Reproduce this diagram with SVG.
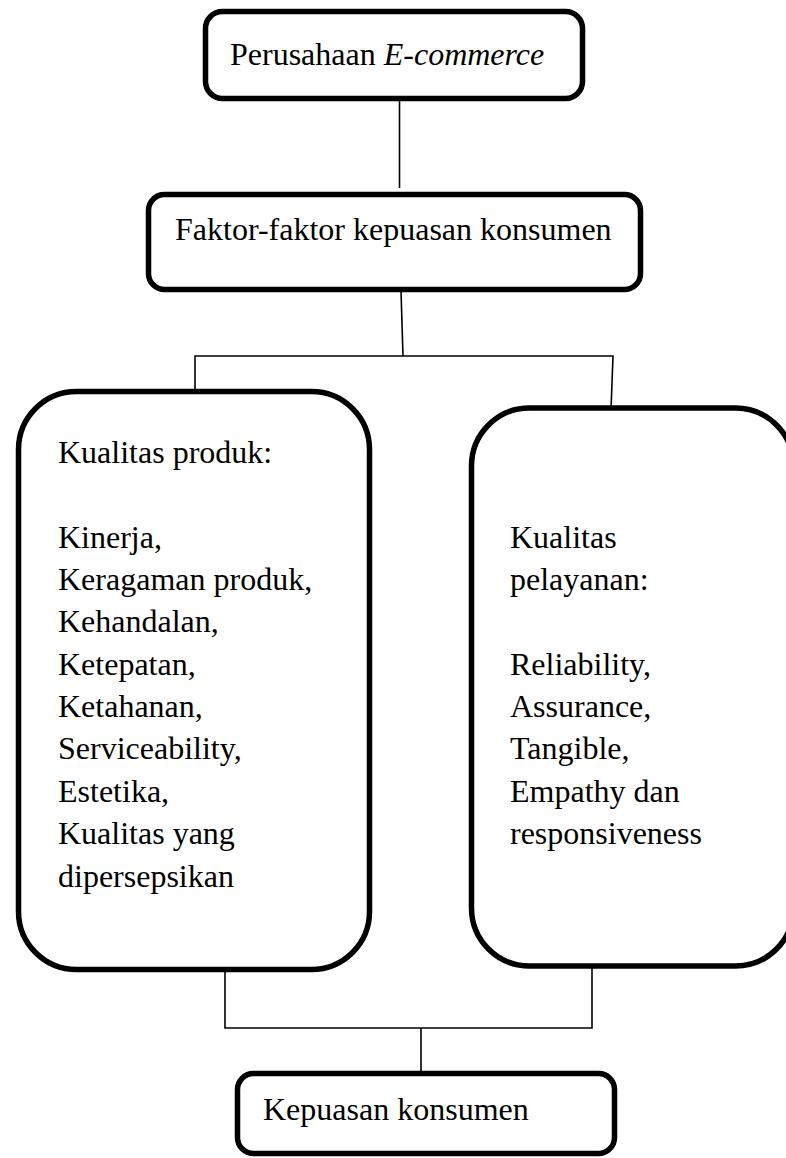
<svg xmlns="http://www.w3.org/2000/svg" width="786" height="1158" viewBox="0 0 786 1158">
  <style>
    .box { fill: #ffffff; stroke: #000000; stroke-width: 5.5; }
    .link { fill: none; stroke: #000000; stroke-width: 1.6; }
    text { font-family: "Liberation Serif", "Times New Roman", serif; font-size: 32px; fill: #000000; }
    .it { font-style: italic; }
  </style>
  <rect width="786" height="1158" fill="#ffffff"/>

  <!-- connectors -->
  <g id="connectors">
    <line class="link" x1="399.5" y1="100" x2="399.5" y2="188"/>
    <line class="link" x1="401" y1="291" x2="403" y2="356"/>
    <polyline class="link" points="195,390 195,356 613,356 611,410"/>
    <polyline class="link" points="225,972 225,1028 592,1028 592,967"/>
    <line class="link" x1="421" y1="1028" x2="421" y2="1072"/>
  </g>

  <g id="node-ecommerce">
    <rect class="box" x="205.5" y="11.5" width="377" height="87" rx="17"/>
    <text x="230" y="65">Perusahaan <tspan class="it">E-commerce</tspan></text>
  </g>

  <g id="node-faktor">
    <rect class="box" x="148.5" y="194.5" width="492" height="95" rx="16"/>
    <text x="175" y="240">Faktor-faktor kepuasan konsumen</text>
  </g>

  <g id="node-produk">
    <rect class="box" x="18.5" y="391.5" width="351" height="578" rx="58"/>
    <text x="58" y="463">Kualitas produk:</text>
    <text x="58" y="548">Kinerja,</text>
    <text x="58" y="590">Keragaman produk,</text>
    <text x="58" y="632">Kehandalan,</text>
    <text x="58" y="675">Ketepatan,</text>
    <text x="58" y="717">Ketahanan,</text>
    <text x="58" y="759">Serviceability,</text>
    <text x="58" y="802">Estetika,</text>
    <text x="58" y="844">Kualitas yang</text>
    <text x="58" y="887">dipersepsikan</text>
  </g>

  <g id="node-pelayanan">
    <rect class="box" x="471.5" y="408" width="322" height="558" rx="58"/>
    <text x="510" y="548">Kualitas</text>
    <text x="510" y="590">pelayanan:</text>
    <text x="510" y="675">Reliability,</text>
    <text x="510" y="717">Assurance,</text>
    <text x="510" y="759">Tangible,</text>
    <text x="510" y="802">Empathy dan</text>
    <text x="510" y="844">responsiveness</text>
  </g>

  <g id="node-kepuasan">
    <rect class="box" x="237.5" y="1073.5" width="377" height="80" rx="16"/>
    <text x="263" y="1120">Kepuasan konsumen</text>
  </g>
</svg>
